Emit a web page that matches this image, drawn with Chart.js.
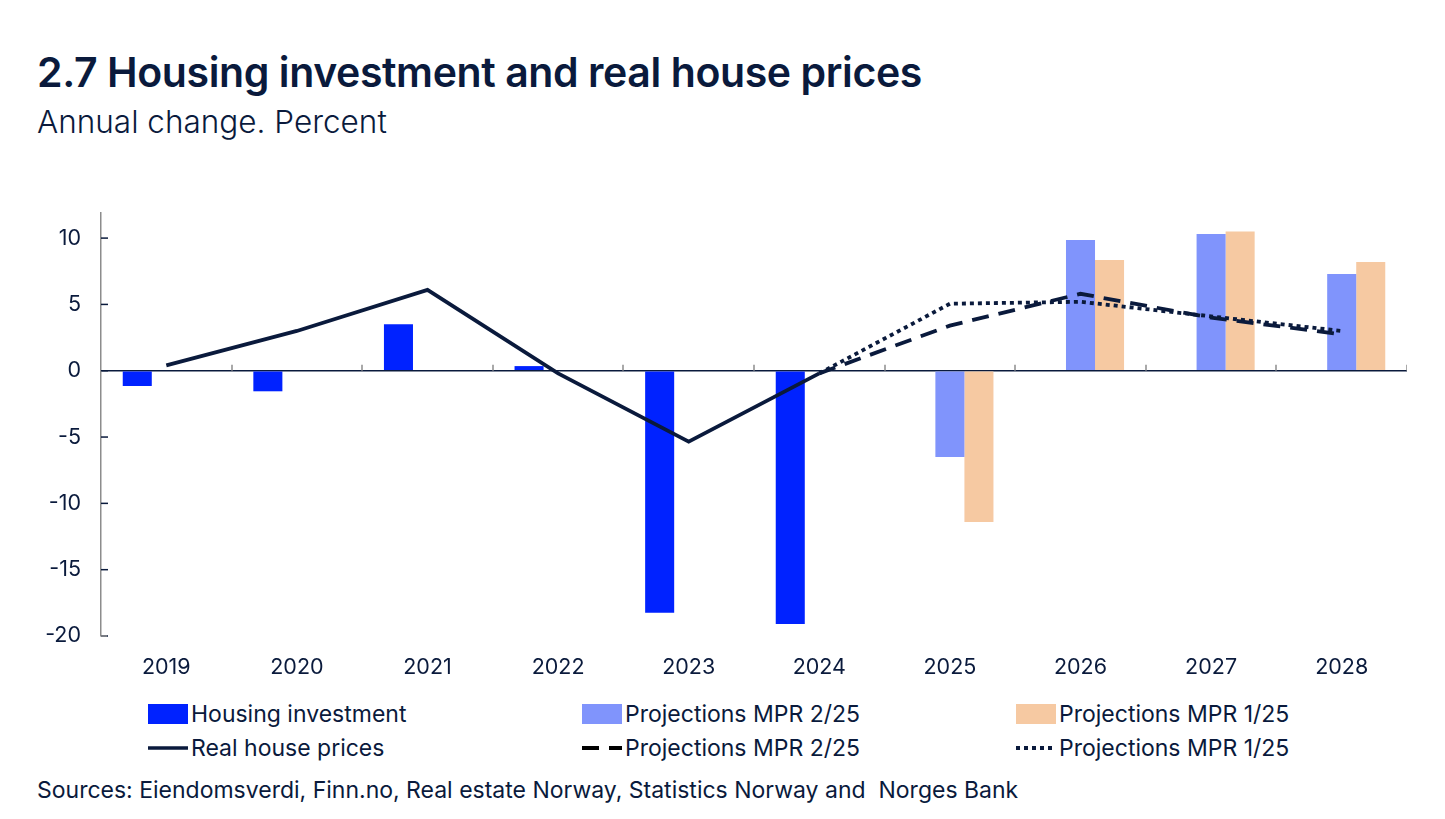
<!DOCTYPE html>
<html>
<head>
<meta charset="utf-8">
<script src="https://cdn.jsdelivr.net/npm/chart.js@4"></script>
<style>
  body { margin: 0; width: 1445px; height: 819px; background: #fff; font-family: Inter, "Noto Sans", sans-serif; color: #0a1a3c; position: relative; overflow: hidden; }
  .title { position: absolute; left: 37px; top: 47px; font-size: 41px; font-weight: 600; letter-spacing: -0.4px; white-space: nowrap; }
  .subtitle { position: absolute; left: 37px; top: 102px; font-size: 31.5px; font-weight: 300; white-space: nowrap; }
  .chart-box { position: absolute; left: 20px; top: 180px; width: 1387px; height: 506px; }
  .legend-item { position: absolute; display: flex; align-items: center; font-size: 23px; white-space: nowrap; }
  .legend-item svg { margin-right: 3px; }
  .source { position: absolute; left: 37px; top: 776px; font-size: 23px; white-space: nowrap; }
</style>
</head>
<body>
<div class="title">2.7 Housing investment and real house prices</div>
<div class="subtitle">Annual change. Percent</div>
<div class="chart-box"><canvas id="housingChart"></canvas></div>
<div id="legend"></div>
<div class="source">Sources: Eiendomsverdi, Finn.no, Real estate Norway, Statistics Norway and&nbsp; Norges Bank</div>

<script>
// data
const years = ["2019", "2020", "2021", "2022", "2023", "2024", "2025", "2026", "2027", "2028"];
const housingInvestment = [-1.15, -1.55, 3.5, 0.35, -18.25, -19.1, null, null, null, null];
const investmentMpr225 = [null, null, null, null, null, null, -6.5, 9.85, 10.3, 7.3];
const investmentMpr125 = [null, null, null, null, null, null, -11.4, 8.35, 10.5, 8.2];
const realHousePrices = [0.4, 3.0, 6.1, -0.2, -5.35, -0.2, null, null, null, null];
const pricesMpr225 = [null, null, null, null, null, -0.2, 3.4, 5.8, 4.0, 2.75];
const pricesMpr125 = [null, null, null, null, null, -0.2, 5.05, 5.2, 4.1, 3.0];
const yTicks = [-20, -15, -10, -5, 0, 5, 10];

const navy = "#0a1a3c";
const axisGrey = "#8c8c8c";

// small inward tick marks, like the original
const tickMarks = {
  id: "tickMarks",
  afterDatasetsDraw(chart) {
    const ctx = chart.ctx;
    const x = chart.scales.x;
    const y = chart.scales.y;
    const zero = y.getPixelForValue(0);
    ctx.save();
    ctx.lineWidth = 1.5;
    ctx.strokeStyle = axisGrey;
    // x ticks between categories, pointing up from zero line
    for (let i = 1; i <= years.length; i++) {
      const px = Math.round((x.getPixelForValue(i - 1) + x.getPixelForValue(i)) / 2);
      const bx = i === years.length ? x.right : px;
      ctx.beginPath();
      ctx.moveTo(bx, zero);
      ctx.lineTo(bx, zero - 6);
      ctx.stroke();
    }
    // y ticks pointing right from y axis
    ctx.strokeStyle = navy;
    yTicks.forEach(v => {
      const py = y.getPixelForValue(v);
      ctx.beginPath();
      ctx.moveTo(y.right, py);
      ctx.lineTo(y.right + 7, py);
      ctx.stroke();
    });
    // little foot at the bottom of the y axis
    ctx.strokeStyle = axisGrey;
    ctx.beginPath();
    ctx.moveTo(y.right, y.bottom);
    ctx.lineTo(y.right + 6, y.bottom);
    ctx.stroke();
    ctx.restore();
  }
};

const datasets = [
  { type: "bar", label: "Housing investment", data: housingInvestment, backgroundColor: "#0022ff", order: 2 },
  { type: "bar", label: "Projections MPR 2/25", data: investmentMpr225, backgroundColor: "#8094fc", order: 2 },
  { type: "bar", label: "Projections MPR 1/25", data: investmentMpr125, backgroundColor: "#f6c9a2", order: 2 },
  { type: "line", label: "Real house prices", data: realHousePrices, borderColor: navy, borderWidth: 3.8, pointRadius: 0, order: 1 },
  { type: "line", label: "Projections MPR 2/25", data: pricesMpr225, borderColor: navy, borderWidth: 3.8, borderDash: [17, 10], pointRadius: 0, order: 1 },
  { type: "line", label: "Projections MPR 1/25", data: pricesMpr125, borderColor: navy, borderWidth: 3.8, borderDash: [4, 4], pointRadius: 0, order: 0 }
];

new Chart(document.getElementById("housingChart"), {
  data: { labels: years, datasets: datasets },
  options: {
    responsive: true,
    maintainAspectRatio: false,
    animation: false,
    categoryPercentage: 0.667,
    barPercentage: 1,
    layout: { padding: { top: 11, right: 0, left: 0, bottom: 0 } },
    plugins: { legend: { display: false }, tooltip: { enabled: false } },
    scales: {
      x: {
        grid: { display: false, drawTicks: false },
        border: { display: false },
        ticks: { color: navy, padding: 19, font: { family: "Inter", size: 21.5 } },
        afterFit(axis) { axis.height = 50; }
      },
      y: {
        min: -20,
        max: 11.9,
        afterBuildTicks(axis) { axis.ticks = yTicks.map(v => ({ value: v })); },
        grid: {
          drawTicks: false,
          lineWidth: 1.5,
          color: c => (c.tick && c.tick.value === 0 ? navy : "transparent")
        },
        border: { display: true, color: axisGrey, width: 1.5 },
        ticks: { color: navy, padding: 20, font: { family: "Inter", size: 21.5 } },
        afterFit(axis) { axis.width = 81; }
      }
    }
  },
  plugins: [tickMarks]
});

// legend in three columns, two rows
const legendSpots = [
  { x: 148, y: 700, kind: "box", color: "#0022ff", label: "Housing investment" },
  { x: 582, y: 700, kind: "box", color: "#8094fc", label: "Projections MPR 2/25" },
  { x: 1016, y: 700, kind: "box", color: "#f6c9a2", label: "Projections MPR 1/25" },
  { x: 148, y: 734, kind: "solid", color: navy, label: "Real house prices" },
  { x: 582, y: 734, kind: "dash", color: "#000", label: "Projections MPR 2/25" },
  { x: 1016, y: 734, kind: "dot", color: navy, label: "Projections MPR 1/25" }
];
const legend = document.getElementById("legend");
legendSpots.forEach(item => {
  let swatch;
  if (item.kind === "box") {
    swatch = `<rect x="0" y="0" width="40" height="20" fill="${item.color}"/>`;
  } else if (item.kind === "solid") {
    swatch = `<line x1="0" y1="10" x2="40" y2="10" stroke="${item.color}" stroke-width="3.5"/>`;
  } else if (item.kind === "dash") {
    swatch = `<line x1="0" y1="10" x2="40" y2="10" stroke="${item.color}" stroke-width="4" stroke-dasharray="17 10"/>`;
  } else {
    swatch = `<line x1="0" y1="10" x2="40" y2="10" stroke="${item.color}" stroke-width="4" stroke-dasharray="4 4"/>`;
  }
  const div = document.createElement("div");
  div.className = "legend-item";
  div.style.left = item.x + "px";
  div.style.top = item.y + "px";
  div.innerHTML = `<svg width="40" height="20">${swatch}</svg><span>${item.label}</span>`;
  legend.appendChild(div);
});
</script>
</body>
</html>
